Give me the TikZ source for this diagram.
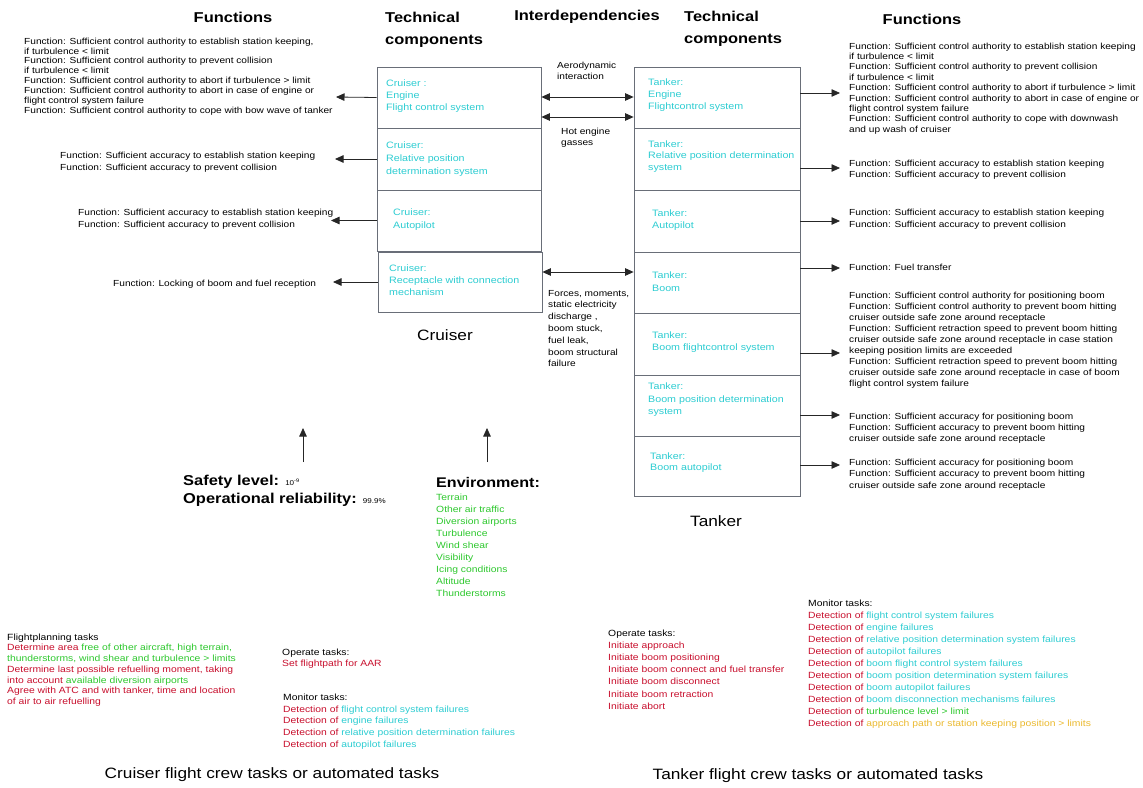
\documentclass[tikz,border=0pt]{standalone}
\usepackage{fontspec}
\setmainfont{Liberation Sans}[FakeStretch=1.15]
\usetikzlibrary{arrows.meta}
\definecolor{cyn}{RGB}{45,205,210}
\definecolor{grn}{RGB}{45,200,45}
\definecolor{rd}{RGB}{200,15,45}
\definecolor{ylw}{RGB}{235,185,45}
\definecolor{bx}{RGB}{105,110,120}
\newcommand{\dtc}{\textcolor{rd}{Detection of }}
\newcommand{\fsz}[2]{\fontsize{#1}{#2}\selectfont}
\begin{document}
\begin{tikzpicture}[x=1pt,y=-1pt,
  sm/.style={font=\fsz{8.8}{9.9}, align=left, inner sep=0pt, anchor=west},
  hd/.style={font=\fsz{14.3}{22}\bfseries, align=left, inner sep=0pt, anchor=west},
  boxn/.style={draw=bx, line width=0.8pt, inner sep=0pt},
  btxt/.style={font=\fsz{9.3}{12}, text=cyn, align=left, inner sep=0pt, anchor=west},
  arr/.style={-{Triangle[length=8.5pt,width=7.5pt]}, line width=0.8pt, draw=black!85},
  darr/.style={{Triangle[length=8.5pt,width=7.5pt]}-{Triangle[length=8.5pt,width=7.5pt]}, line width=0.8pt, draw=black!85},
  ttl/.style={font=\fsz{15}{18}, inner sep=0pt, anchor=center}]
\useasboundingbox (0,0) rectangle (1143,787);
\fill[white] (0,0) rectangle (1143,787);

% headings
\node[hd, anchor=center] (fl) at (233,17) {Functions};
\node[hd] (tcl) at (385,30) {Technical\\components};
\node[hd, anchor=center] (idp) at (587,17) {Interdependencies};
\node[hd] (tcr) at (684,29) {Technical\\components};
\node[hd, anchor=center] (fr) at (922,19) {Functions};

% cruiser boxes
\node[boxn, minimum width=164pt, minimum height=61pt] (c1) at (459,97.5) {};
\node[boxn, minimum width=164pt, minimum height=62pt] (c2) at (459,159) {};
\node[boxn, minimum width=164pt, minimum height=61pt] (c3) at (459,220.5) {};
\node[boxn, minimum width=164pt, minimum height=60pt] (c4) at (460,282) {};
\node[btxt] (c1t) at (386,96) {Cruiser :\\Engine\\Flight control system};
\node[btxt, font=\fsz{9.3}{13}] (c2t) at (386,159) {Cruiser:\\Relative position\\determination system};
\node[btxt, font=\fsz{9.3}{13}] (c3t) at (393,219.5) {Cruiser:\\Autopilot};
\node[btxt] (c4t) at (389,280.5) {Cruiser:\\Receptacle with connection\\mechanism};
\node[ttl] (cru) at (445,335) {Cruiser};

% tanker boxes
\node[boxn, minimum width=166pt, minimum height=61pt] (t1) at (717,97.5) {};
\node[boxn, minimum width=166pt, minimum height=62pt] (t2) at (717,159) {};
\node[boxn, minimum width=166pt, minimum height=62pt] (t3) at (717,221) {};
\node[boxn, minimum width=166pt, minimum height=61pt] (t4) at (717,282.5) {};
\node[boxn, minimum width=166pt, minimum height=62pt] (t5) at (717,344) {};
\node[boxn, minimum width=166pt, minimum height=61pt] (t6) at (717,405.5) {};
\node[boxn, minimum width=166pt, minimum height=60pt] (t7) at (717,466) {};
\node[btxt] (t1t) at (648,95.5) {Tanker:\\Engine\\Flightcontrol system};
\node[btxt, font=\fsz{9.3}{11.5}] (t2t) at (648,156.5) {Tanker:\\Relative position determination\\system};
\node[btxt] (t3t) at (652,220) {Tanker:\\Autopilot};
\node[btxt, font=\fsz{9.3}{13}] (t4t) at (652,281.5) {Tanker:\\Boom};
\node[btxt] (t5t) at (652,342) {Tanker:\\Boom flightcontrol system};
\node[btxt, font=\fsz{9.3}{12.5}] (t6t) at (648,400) {Tanker:\\Boom position determination\\system};
\node[btxt, font=\fsz{9.3}{11.5}] (t7t) at (650,462.5) {Tanker:\\Boom autopilot};
\node[ttl] (tan) at (716,521) {Tanker};

% interdependencies
\coordinate (ia) at (587,97);
\coordinate (ib) at (587,117);
\coordinate (ic) at (587,272);
\draw[darr] (c1.east |- ia) -- (t1.west |- ia);
\draw[darr] (c1.east |- ib) -- (t1.west |- ib);
\draw[darr] (c4.east |- ic) -- (t4.west |- ic);
\node[sm, font=\fsz{8.8}{10.5}] (iat) at (557,71) {Aerodynamic\\interaction};
\node[sm, font=\fsz{8.8}{11}] (ibt) at (561,137.5) {Hot engine\\gasses};
\node[sm, font=\fsz{8.8}{11.8}] (ict) at (548,328.5) {Forces, moments,\\static electricity\\discharge ,\\boom stuck,\\fuel leak,\\boom structural\\failure};

% left functions
\node[sm] (lf1t) at (24,76.5) {Function: Sufficient control authority to establish station keeping,\\if turbulence < limit\\Function: Sufficient control authority to prevent collision\\if turbulence < limit\\Function: Sufficient control authority to abort if turbulence > limit\\Function: Sufficient control authority to abort in case of engine or\\flight control system failure\\Function: Sufficient control authority to cope with bow wave of tanker};
\node[sm, font=\fsz{8.8}{11.5}] (lf2t) at (60,162) {Function: Sufficient accuracy to establish station keeping\\Function: Sufficient accuracy to prevent collision};
\node[sm, font=\fsz{8.8}{12}] (lf3t) at (78,219) {Function: Sufficient accuracy to establish station keeping\\Function: Sufficient accuracy to prevent collision};
\node[sm] (lf4t) at (113,284) {Function: Locking of boom and fuel reception};
\coordinate (lf1) at (336,97);
\coordinate (lf2) at (335,159);
\coordinate (lf3) at (331,220.5);
\coordinate (lf4) at (333,282);
\draw[arr] (c1.west) -- (lf1);
\draw[arr] (c2.west) -- (lf2);
\draw[arr] (c3.west) -- (lf3);
\draw[arr] (c4.west) -- (lf4);

% right functions
\node[sm, font=\fsz{8.8}{10.4}] (rf1t) at (849,88.5) {Function: Sufficient control authority to establish station keeping\\if turbulence < limit\\Function: Sufficient control authority to prevent collision\\if turbulence < limit\\Function: Sufficient control authority to abort if turbulence > limit\\Function: Sufficient control authority to abort in case of engine or\\flight control system failure\\Function: Sufficient control authority to cope with downwash\\and up wash of cruiser};
\node[sm, font=\fsz{8.8}{11}] (rf2t) at (849,169.5) {Function: Sufficient accuracy to establish station keeping\\Function: Sufficient accuracy to prevent collision};
\node[sm, font=\fsz{8.8}{12}] (rf3t) at (849,219) {Function: Sufficient accuracy to establish station keeping\\Function: Sufficient accuracy to prevent collision};
\node[sm] (rf4t) at (849,267) {Function: Fuel transfer};
\node[sm, font=\fsz{8.8}{11}] (rf5t) at (849,340) {Function: Sufficient control authority for positioning boom\\Function: Sufficient control authority to prevent boom hitting\\cruiser outside safe zone around receptacle\\Function: Sufficient retraction speed to prevent boom hitting\\cruiser outside safe zone around receptacle in case station\\keeping position limits are exceeded\\Function: Sufficient retraction speed to prevent boom hitting\\cruiser outside safe zone around receptacle in case of boom\\flight control system failure};
\node[sm, font=\fsz{8.8}{11}] (rf6t) at (849,428) {Function: Sufficient accuracy for positioning boom\\Function: Sufficient accuracy to prevent boom hitting\\cruiser outside safe zone around receptacle};
\node[sm, font=\fsz{8.8}{11.5}] (rf7t) at (849,474.5) {Function: Sufficient accuracy for positioning boom\\Function: Sufficient accuracy to prevent boom hitting\\cruiser outside safe zone around receptacle};
\coordinate (rf1) at (840,93);
\coordinate (rf2) at (840,168);
\coordinate (rf3) at (840,221);
\coordinate (rf4) at (840,268);
\coordinate (rf5) at (840,353);
\coordinate (rf6) at (840,415);
\coordinate (rf7) at (840,465);
\draw[arr] (t1.east |- rf1) -- (rf1);
\draw[arr] (t2.east |- rf2) -- (rf2);
\draw[arr] (t3.east |- rf3) -- (rf3);
\draw[arr] (t4.east |- rf4) -- (rf4);
\draw[arr] (t5.east |- rf5) -- (rf5);
\draw[arr] (t6.east |- rf6) -- (rf6);
\draw[arr] (t7.east |- rf7) -- (rf7);

% safety and environment
\coordinate (ua1) at (303,462);
\coordinate (ua2) at (303,428);
\coordinate (ub1) at (487,462);
\coordinate (ub2) at (487,428);
\draw[arr] (ua1) -- (ua2);
\draw[arr] (ub1) -- (ub2);
\node[hd, font=\fsz{14.3}{18}\bfseries] (saf) at (183,491) {Safety level: {\mdseries\fsz{7}{8}10\textsuperscript{-9}}\\Operational reliability: {\mdseries\fsz{7}{8}99.9\%}};
\node[hd, font=\fsz{14}{18}\bfseries] (env) at (436,482) {Environment:};
\node[sm, font=\fsz{9}{12}, text=grn] (envl) at (436,545) {Terrain\\Other air traffic\\Diversion airports\\Turbulence\\Wind shear\\Visibility\\Icing conditions\\Altitude\\Thunderstorms};

% cruiser tasks
\node[sm, font=\fsz{9}{10.7}] (fpt) at (7,670) {Flightplanning tasks\\
\textcolor{rd}{Determine area }\textcolor{grn}{free of other aircraft, high terrain,}\\
\textcolor{grn}{thunderstorms, wind shear and turbulence > limits}\\
\textcolor{rd}{Determine last possible refuelling moment, taking}\\
\textcolor{rd}{into account }\textcolor{grn}{available diversion airports}\\
\textcolor{rd}{Agree with ATC and with tanker, time and location}\\
\textcolor{rd}{of air to air refuelling}};
\node[sm, font=\fsz{9}{11}] (copt) at (282,658.5) {Operate tasks:\\\textcolor{rd}{Set flightpath for AAR}};
\node[sm, font=\fsz{9}{11.75}] (cmon) at (283,721.5) {Monitor tasks:\\
\dtc\textcolor{cyn}{flight control system failures}\\
\dtc\textcolor{cyn}{engine failures}\\
\dtc\textcolor{cyn}{relative position determination failures}\\
\dtc\textcolor{cyn}{autopilot failures}};
\node[ttl] (ctt) at (272,775) {Cruiser flight crew tasks or automated tasks};

% tanker tasks
\node[sm, font=\fsz{9}{12.2}] (topt) at (608,669.5) {Operate tasks:\\
\textcolor{rd}{Initiate approach}\\
\textcolor{rd}{Initiate boom positioning}\\
\textcolor{rd}{Initiate boom connect and fuel transfer}\\
\textcolor{rd}{Initiate boom disconnect}\\
\textcolor{rd}{Initiate boom retraction}\\
\textcolor{rd}{Initiate abort}};
\node[sm, font=\fsz{9}{12}] (tmon) at (808,664) {Monitor tasks:\\
\dtc\textcolor{cyn}{flight control system failures}\\
\dtc\textcolor{cyn}{engine failures}\\
\dtc\textcolor{cyn}{relative position determination system failures}\\
\dtc\textcolor{cyn}{autopilot failures}\\
\dtc\textcolor{cyn}{boom flight control system failures}\\
\dtc\textcolor{cyn}{boom position determination system failures}\\
\dtc\textcolor{cyn}{boom autopilot failures}\\
\dtc\textcolor{cyn}{boom disconnection mechanisms failures}\\
\dtc\textcolor{grn}{turbulence level > limit}\\
\dtc\textcolor{ylw}{approach path or station keeping position > limits}};
\node[ttl] (ttt) at (818,776) {Tanker flight crew tasks or automated tasks};
\end{tikzpicture}
\end{document}
